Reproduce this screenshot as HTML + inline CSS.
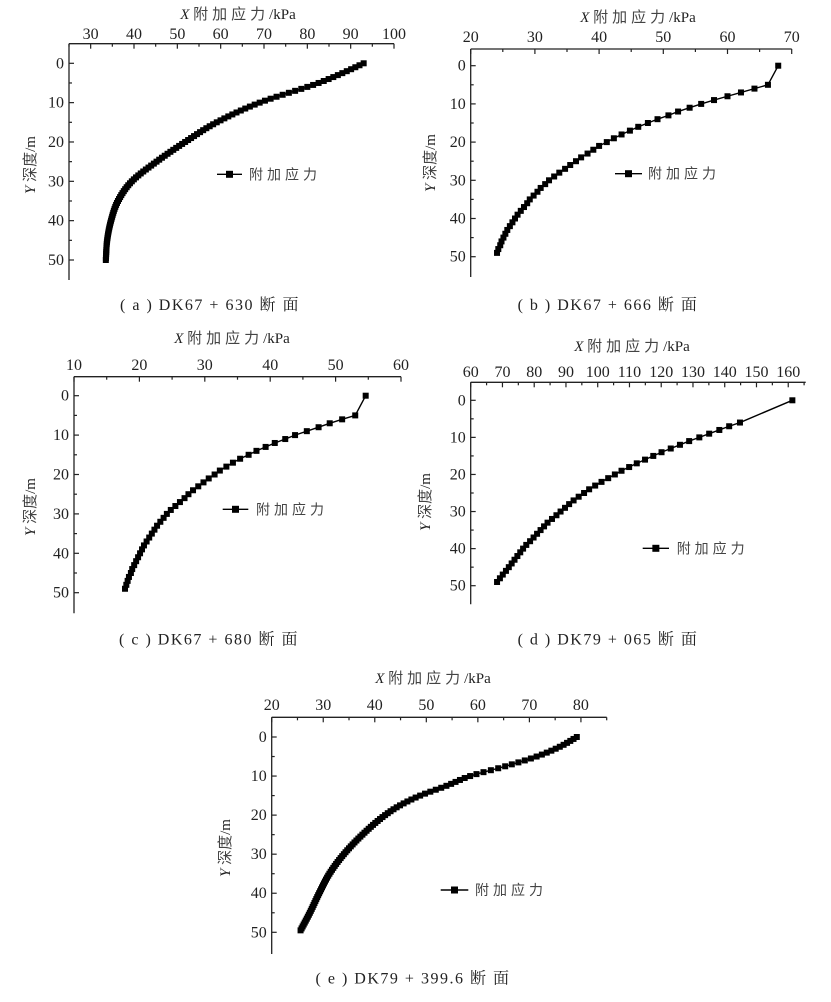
<!DOCTYPE html>
<html><head><meta charset="utf-8"><style>
html,body{margin:0;padding:0;background:#fff;}
svg text{font-family:"Liberation Serif","Noto Serif CJK SC","Noto Sans CJK SC",serif;fill:#222;}
.cn{font-family:"Liberation Serif","Noto Sans CJK SC",sans-serif;fill:#444;}
</style></head><body>
<svg id="s" xmlns="http://www.w3.org/2000/svg" width="831" height="997" viewBox="0 0 831 997"></svg>
<script>
const S=document.getElementById('s');const NS='http://www.w3.org/2000/svg';
function el(t,a,txt){const e=document.createElementNS(NS,t);for(const k in a)e.setAttribute(k,a[k]);if(txt!==undefined)e.textContent=txt;S.appendChild(e);return e;}
function interp(k,step){
 const n=k.length,xs=k.map(p=>p[0]),ys=k.map(p=>p[1]);const d=[],m=[];
 for(let i=0;i<n-1;i++)d.push((ys[i+1]-ys[i])/(xs[i+1]-xs[i]));
 m[0]=d[0];m[n-1]=d[n-2];
 for(let i=1;i<n-1;i++){m[i]=(d[i-1]*d[i]<=0)?0:(d[i-1]+d[i])/2;}
 for(let i=0;i<n-1;i++){if(d[i]===0){m[i]=m[i+1]=0;continue;}const a=m[i]/d[i],b=m[i+1]/d[i],s=a*a+b*b;if(s>9){const t=3/Math.sqrt(s);m[i]=t*a*d[i];m[i+1]=t*b*d[i];}}
 const out=[];
 for(let y=xs[0];y<=xs[n-1]+1e-9;y+=step){let i=0;while(i<n-2&&xs[i+1]<y)i++;
  const h=xs[i+1]-xs[i],t=(y-xs[i])/h,t2=t*t,t3=t2*t;
  const v=(2*t3-3*t2+1)*ys[i]+(t3-2*t2+t)*h*m[i]+(-2*t3+3*t2)*ys[i+1]+(t3-t2)*h*m[i+1];
  out.push([y,v]);}
 return out;}
function chart(c){
 const X=v=>c.L+(v-c.xmin)/(c.xmax-c.xmin)*(c.R-c.L);
 const Y=v=>c.y0+v*(c.y50-c.y0)/50;
 el('line',{x1:c.L,y1:c.T,x2:c.R,y2:c.T,stroke:'#222','stroke-width':1.3});
 el('line',{x1:c.L,y1:c.T,x2:c.L,y2:c.B,stroke:'#222','stroke-width':1.3});
 for(let v=Math.ceil(c.xmin/5)*5;v<=c.xmax+1e-6;v+=5){const maj=v%10===0;const x=X(v);
  el('line',{x1:x,y1:c.T,x2:x,y2:c.T+(maj?5:3),stroke:'#222','stroke-width':1.2});
  if(maj)el('text',{x:x,y:c.ty,'font-size':16,'text-anchor':'middle'},String(v));}
 for(let v=0;v<=50;v+=5){const y=Y(v);const maj=v%10===0;
  el('line',{x1:c.L,y1:y,x2:c.L+(maj?5:3),y2:y,stroke:'#222','stroke-width':1.2});
  if(maj)el('text',{x:c.L-5,y:y+5,'font-size':16,'text-anchor':'end'},String(v));}
 const t=el('text',{x:c.tx,y:c.tty,'font-size':15,'text-anchor':'middle'});
 const a=document.createElementNS(NS,'tspan');a.setAttribute('font-style','italic');a.textContent='X ';t.appendChild(a);
 const b=document.createElementNS(NS,'tspan');b.setAttribute('class','cn');b.setAttribute('letter-spacing','4');b.textContent='附加应力';t.appendChild(b);
 const d=document.createElementNS(NS,'tspan');d.textContent='/kPa';t.appendChild(d);
 const yl=el('text',{x:0,y:0,'font-size':15,'text-anchor':'middle',transform:`translate(${c.ylx+5},${c.yly}) rotate(-90)`});
 const e1=document.createElementNS(NS,'tspan');e1.setAttribute('font-style','italic');e1.textContent='Y ';yl.appendChild(e1);
 const e2=document.createElementNS(NS,'tspan');e2.setAttribute('class','cn');e2.textContent='深度';yl.appendChild(e2);
 const e3=document.createElementNS(NS,'tspan');e3.textContent='/m';yl.appendChild(e3);
 const pts=c.pts.map(p=>[X(p[1]),Y(p[0])]);
 el('polyline',{points:pts.map(p=>p.join(',')).join(' '),fill:'none',stroke:'#000','stroke-width':1.4});
 const m=c.ms||6;
 pts.forEach(p=>el('rect',{x:p[0]-m/2,y:p[1]-m/2,width:m,height:m,fill:'#000'}));
 el('line',{x1:c.lg[0],y1:c.lg[2],x2:c.lg[1],y2:c.lg[2],stroke:'#000','stroke-width':1.4});
 el('rect',{x:(c.lg[0]+c.lg[1])/2-3.5,y:c.lg[2]-3.5,width:7,height:7,fill:'#000'});
 el('text',{x:c.lg[3],y:c.lg[2]+5,'font-size':14,class:'cn','letter-spacing':4},'附加应力');
 el('text',{x:c.cx,y:c.cy+5,'font-size':16,'text-anchor':'middle','letter-spacing':1.5},c.cap);
}
function ints(start,arr){return arr.map((v,i)=>[start+i,v]);}
chart({L:69,R:394,T:43.7,B:280,xmin:25,xmax:100,y0:63.3,y50:260,ty:39,tx:238,tty:19,ylx:30,yly:165,
 pts:interp([[0,93],[2,89.1],[5,82.6],[10,69],[15,59.1],[20,51.8],[25,45.2],[30,39.5],[35,36.3],[40,34.7],[45,33.8],[50,33.5]],0.5),
 lg:[217,242,174.3,249],cx:210,cy:305,cap:'( a ) DK67 + 630 断 面'});
chart({L:470.7,R:791.7,T:49,B:277,xmin:20,xmax:70,y0:65.7,y50:256.7,ty:42,tx:638,tty:22,ylx:430,yly:163,
 pts:[[0,67.9]].concat(ints(5,[66.3,64.2,62.1,60,57.9,55.9,54.1,52.3,50.8,49.1,47.6,46.1,44.8,43.5,42.3,41.2,40,39.1,38.2,37.2,36.4,35.5,34.7,33.8,33,32.2,31.6,30.9,30.4,29.8,29.2,28.8,28.3,27.8,27.3,26.9,26.5,26.1,25.7,25.4,25.1,24.8,24.6,24.3,24.1])),
 lg:[615,642,173.7,648],cx:608,cy:305,cap:'( b ) DK67 + 666 断 面'});
chart({L:74,R:401,T:376.7,B:613.3,xmin:10,xmax:60,y0:395.7,y50:592.7,ty:370,tx:232,tty:343,ylx:30,yly:507,
 pts:[[0,54.6]].concat(ints(5,[53,51,49.1,47.4,45.6,43.8,42.3,40.7,39.3,37.9,36.7,35.4,34.3,33.3,32.3,31.5,30.6,29.8,29,28.2,27.5,26.9,26.2,25.5,24.8,24.2,23.7,23.2,22.7,22.3,21.9,21.5,21.1,20.7,20.4,20.1,19.8,19.5,19.2,18.9,18.7,18.4,18.2,18.0,17.8])),
 lg:[222.7,248.3,509.3,256],cx:209,cy:639.3,cap:'( c ) DK67 + 680 断 面'});
chart({L:470.7,R:805.7,T:382.3,B:604.3,xmin:60,xmax:165.5,y0:400.3,y50:585.7,ty:377,tx:632,tty:351,ylx:425,yly:502,
 pts:[[0,161.3]].concat(ints(6,[144.8,141.4,138.3,135.1,132,128.8,125.9,123,120.1,117.5,114.9,112.3,109.9,107.5,105.4,103.3,101.2,99.2,97.3,95.7,94,92.4,91,89.7,88.3,87,85.6,84.2,83.1,82,80.9,79.8,78.7,77.5,76.5,75.6,74.7,73.8,72.9,72.0,71.1,70.1,69.2,68.3])),
 lg:[642.7,669,548.3,676.7],cx:608,cy:639.3,cap:'( d ) DK79 + 065 断 面'});
chart({L:271.7,R:606.7,T:717.3,B:954,xmin:20,xmax:85,y0:737,y50:932.3,ty:710,tx:433,tty:683,ylx:225,yly:848,
 pts:interp([[0,79.2],[2.5,75.9],[5,71.4],[7.5,65.3],[10,58.5],[12.5,53.9],[15,48.8],[17.5,44.9],[20,42.0],[25,37.6],[30,34.0],[35,31.2],[40,29.2],[45,27.4],[49.5,25.6]],0.5),
 lg:[440.7,468.3,890,475],cx:413,cy:978.3,cap:'( e ) DK79 + 399.6 断 面'});
</script>
</body></html>
